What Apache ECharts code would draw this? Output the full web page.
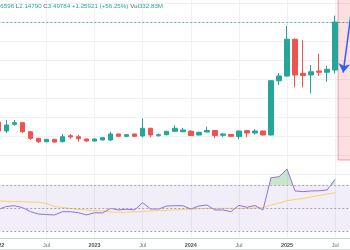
<!DOCTYPE html>
<html>
<head>
<meta charset="utf-8">
<script src="https://cdn.jsdelivr.net/npm/echarts@6/dist/echarts.min.js"></script>
<style>
html, body { margin: 0; padding: 0; background: #fff; }
#chart { width: 350px; height: 250px; }
</style>
</head>
<body>
<div id="chart"></div>
<script>
// monthly candles, Jan 2022 .. Jul 2025 (+2 empty months on the right)
var months = ['2022-01', '2022-02', '2022-03', '2022-04', '2022-05', '2022-06', '2022-07', '2022-08', '2022-09', '2022-10', '2022-11', '2022-12',
    '2023-01', '2023-02', '2023-03', '2023-04', '2023-05', '2023-06', '2023-07', '2023-08', '2023-09', '2023-10', '2023-11', '2023-12',
    '2024-01', '2024-02', '2024-03', '2024-04', '2024-05', '2024-06', '2024-07', '2024-08', '2024-09', '2024-10', '2024-11', '2024-12',
    '2025-01', '2025-02', '2025-03', '2025-04', '2025-05', '2025-06', '2025-07', '2025-08', '2025-09'];
var monthNames = ['Jan', 'Feb', 'Mar', 'Apr', 'May', 'Jun', 'Jul', 'Aug', 'Sep', 'Oct', 'Nov', 'Dec'];

var openVals = [0.874, 0.638, 0.814, 0.856, 0.619, 0.446, 0.357, 0.420, 0.357, 0.514, 0.488, 0.428,
    0.375, 0.402, 0.402, 0.559, 0.499, 0.559, 0.507, 0.709, 0.514, 0.541, 0.630, 0.620,
    0.633, 0.533, 0.612, 0.651, 0.525, 0.546, 0.493, 0.646, 0.585, 0.638, 0.533, 1.958,
    2.081, 3.045, 2.152, 2.108, 2.213, 2.180, 2.23863];
var closeVals = [0.638, 0.795, 0.856, 0.619, 0.446, 0.357, 0.420, 0.349, 0.488, 0.480, 0.436, 0.375,
    0.428, 0.462, 0.559, 0.499, 0.541, 0.499, 0.709, 0.533, 0.541, 0.630, 0.709, 0.664,
    0.520, 0.604, 0.651, 0.520, 0.559, 0.499, 0.638, 0.585, 0.638, 0.533, 1.958, 2.081,
    3.045, 2.108, 2.094, 2.194, 2.180, 2.257, 3.49784];
var lowVals = [0.600, 0.585, 0.777, 0.585, 0.402, 0.323, 0.341, 0.330, 0.340, 0.436, 0.357, 0.360,
    0.360, 0.390, 0.375, 0.480, 0.480, 0.480, 0.472, 0.472, 0.490, 0.520, 0.610, 0.600,
    0.510, 0.520, 0.600, 0.454, 0.480, 0.480, 0.415, 0.472, 0.546, 0.520, 0.520, 1.845,
    2.060, 1.785, 1.785, 1.627, 2.081, 1.932, 2.14790];
var highVals = [0.950, 0.927, 0.927, 0.874, 0.638, 0.454, 0.428, 0.430, 0.559, 0.559, 0.533, 0.440,
    0.440, 0.470, 0.619, 0.570, 0.560, 0.570, 0.971, 0.720, 0.570, 0.640, 0.790, 0.720,
    0.660, 0.620, 0.751, 0.660, 0.585, 0.560, 0.650, 0.660, 0.690, 0.650, 1.970, 2.160,
    3.394, 3.070, 3.020, 2.370, 2.659, 2.352, 3.66596];

// RSI pane
var rsiVals = [48.7, 51.3, 52.0, 50.4, 46.8, 44.8, 44.3, 43.9, 46.8, 46.8, 45.9, 43.9,
    45.9, 45.7, 49.7, 48.3, 48.9, 48.3, 54.6, 49.1, 49.1, 51.7, 52.0, 52.0,
    49.1, 51.7, 52.6, 48.3, 48.3, 46.8, 52.3, 50.6, 52.2, 48.3, 76.3, 77.2,
    83.9, 64.8, 64.2, 64.8, 65.0, 65.7, 75.0];
var rsiMaVals = [56.1, 55.8, 55.6, 55.5, 55.2, 55.0, 53.9, 51.3, 50.4, 49.6, 48.7, 48.3,
    47.8, 47.4, 46.5, 46.3, 46.3, 46.5, 47.0, 47.4, 47.8, 48.0, 48.3, 48.7,
    49.1, 49.4, 49.6, 49.7, 49.7, 49.7, 49.7, 49.7, 50.0, 50.4, 52.6, 54.3,
    56.3, 57.4, 58.3, 59.6, 60.9, 62.2, 63.3];
var rsiLevels = [70, 50, 30];

var lastClose = 3.49784;
var headerText = '{k|O}{v|2.23863} {k|H}{v|3.66596} {k|L}{v|2.14790} {k|C}{v|3.49784} {v|+1.25921 (+56.25%)}{gk|Vol}{v|332.83M}';

var upColor = '#26a69a', downColor = '#ef5350';
var gridColor = '#eef1f6';
var fontFamily = 'Liberation Sans, Arial, sans-serif';

var candles = [];
for (var i = 0; i < openVals.length; i++) {
    candles.push([openVals[i], closeVals[i], lowVals[i], highVals[i]]);
}

//每半年一根竖线/一个刻度
function isHalfYear(index) {
    return index % 6 === 0;
}

var myChart = echarts.init(document.getElementById('chart'), null, {renderer: 'canvas'});
var option = {
    animation: false,
    title: {
        text: headerText,
        right: 187,
        top: 3,
        padding: 0,
        textStyle: {
            fontSize: 6.2,
            fontWeight: 'normal',
            fontFamily: fontFamily,
            color: upColor,
            rich: {
                k: {color: '#5d606b', fontSize: 6.2, fontFamily: fontFamily},
                gk: {color: '#5d606b', fontSize: 6.2, fontFamily: fontFamily, padding: [0, 0, 0, 2]},
                v: {color: upColor, fontSize: 6.2, fontFamily: fontFamily}
            }
        }
    },
    grid: [
        {left: -1.7, right: -1.2, top: -16.15, height: 190.5, outerBoundsMode: 'none', containLabel: false},
        {left: -1.7, right: -1.2, top: 159.7, height: 78.2, outerBoundsMode: 'none', containLabel: false}
    ],
    graphic: [{
        type: 'line',
        silent: true,
        shape: {x1: 0, y1: 249.5, x2: 350, y2: 249.5},
        style: {stroke: '#d6d9e0', lineWidth: 1}
    }],
    xAxis: [
        {
            type: 'category', gridIndex: 0, data: months, boundaryGap: false,
            axisLine: {show: false}, axisTick: {show: false}, axisLabel: {show: false},
            splitLine: {show: true, interval: isHalfYear, lineStyle: {color: gridColor, width: 1}}
        },
        {
            type: 'category', gridIndex: 1, data: months, boundaryGap: false,
            axisLine: {show: true, lineStyle: {color: '#cfd2d9', width: 1}},
            axisTick: {show: false},
            axisLabel: {
                interval: isHalfYear,
                margin: 5,
                fontSize: 5.5,
                fontFamily: fontFamily,
                hideOverlap: false,
                formatter: function (value) {
                    var p = value.split('-');
                    if (p[1] === '01') {
                        return '{y|' + p[0] + '}';
                    }
                    return '{m|' + monthNames[parseInt(p[1], 10) - 1] + '}';
                },
                rich: {
                    y: {fontSize: 5.5, fontWeight: 'bold', color: '#50535e', fontFamily: fontFamily},
                    m: {fontSize: 5.5, color: '#6a6d78', fontFamily: fontFamily}
                }
            },
            splitLine: {show: true, interval: isHalfYear, lineStyle: {color: gridColor, width: 1}}
        },
        // 注释用的数值轴，与月份序号一一对应
        {type: 'value', gridIndex: 0, min: 0, max: months.length - 1, show: false}
    ],
    yAxis: [
        {
            type: 'value', gridIndex: 0, min: -0.5, max: 4.5, interval: 0.5,
            axisLabel: {show: false}, axisLine: {show: false}, axisTick: {show: false},
            splitLine: {show: true, lineStyle: {color: gridColor, width: 1}}
        },
        {
            type: 'value', gridIndex: 1, min: 24, max: 92,
            axisLabel: {show: false}, axisLine: {show: false}, axisTick: {show: false},
            splitLine: {show: false}
        }
    ],
    visualMap: {
        show: false,
        type: 'piecewise',
        seriesIndex: 4,
        pieces: [
            {min: 70, max: 100, color: 'rgba(76,175,80,0.3)'},
            {min: 0, max: 70, color: 'rgba(255,255,255,0)'}
        ]
    },
    series: [
        {
            name: 'price',
            type: 'candlestick',
            xAxisIndex: 0, yAxisIndex: 0,
            data: candles,
            barWidth: 5,
            itemStyle: {
                color: upColor, color0: downColor,
                borderColor: upColor, borderColor0: downColor, borderWidth: 1
            },
            markLine: {
                silent: true,
                symbol: ['none', 'none'],
                label: {show: false},
                lineStyle: {color: upColor, type: [2, 2], width: 1, opacity: 0.8},
                data: [{yAxis: lastClose}]
            }
        },
        {
            name: 'drawing',
            type: 'line',
            xAxisIndex: 2, yAxisIndex: 0,
            data: [],
            markArea: {
                silent: true,
                itemStyle: {color: 'rgba(242,54,69,0.16)', borderColor: 'rgba(242,54,69,0.45)', borderWidth: 1},
                data: [[{coord: [42.36, -0.123]}, {coord: [44, 4.5]}]]
            },
            markLine: {
                silent: true,
                symbol: ['none', 'arrow'],
                symbolSize: 9,
                label: {show: false},
                lineStyle: {color: '#2962ff', width: 1.5, type: 'solid'},
                data: [[{coord: [44, 3.75]}, {coord: [43.0, 2.17]}]]
            }
        },
        {
            name: 'RSI',
            type: 'line',
            xAxisIndex: 1, yAxisIndex: 1,
            data: rsiVals,
            symbol: 'none',
            lineStyle: {color: '#8f72d4', width: 1},
            z: 4,
            markArea: {
                silent: true,
                itemStyle: {color: 'rgba(126,87,194,0.1)'},
                data: [[{yAxis: rsiLevels[2]}, {yAxis: rsiLevels[0]}]]
            },
            markLine: {
                silent: true,
                symbol: ['none', 'none'],
                label: {show: false},
                lineStyle: {color: '#a3a6af', type: [2, 2], width: 1},
                data: rsiLevels.map(function (v) { return {yAxis: v}; })
            }
        },
        {
            name: 'RSI MA',
            type: 'line',
            xAxisIndex: 1, yAxisIndex: 1,
            data: rsiMaVals,
            symbol: 'none',
            lineStyle: {color: '#f5d36b', width: 1},
            z: 3
        },
        {
            name: 'overbought',
            type: 'line',
            xAxisIndex: 1, yAxisIndex: 1,
            data: rsiVals,
            symbol: 'none',
            lineStyle: {width: 0, opacity: 0},
            areaStyle: {origin: 70, opacity: 1},
            z: 2
        }
    ]
};
myChart.setOption(option);
</script>
</body>
</html>
